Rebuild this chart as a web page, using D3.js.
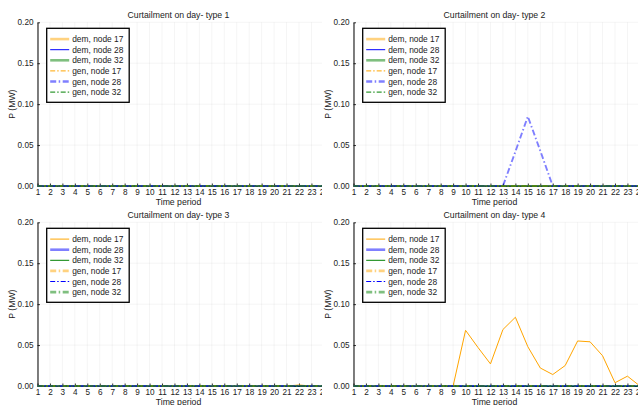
<!DOCTYPE html>
<html><head><meta charset="utf-8">
<script src="https://cdn.jsdelivr.net/npm/d3@7"></script>
<style>body{margin:0;background:#fff}svg{display:block}text{font-family:"Liberation Sans",Arial,sans-serif;fill:#222}</style>
</head><body><svg id="c" width="638" height="405"></svg>
<script>
const periods = d3.range(1, 25);
const yTicks = [0, 0.05, 0.10, 0.15, 0.20];
const titles = ["Curtailment on day- type 1","Curtailment on day- type 2","Curtailment on day- type 3","Curtailment on day- type 4"];
const seriesNames = ["dem, node 17","dem, node 28","dem, node 32","gen, node 17","gen, node 28","gen, node 32"];
const seriesColors = ["#FFA500","#0000FF","#008000","#FFA500","#0000FF","#008000"];
const z = () => periods.map(() => 0);
// day type 1: all zero
const day1 = [z(), z(), z(), z(), z(), z()];
// day type 2: gen, node 28
const day2gen28 = [0,0,0,0,0,0,0,0,0,0,0,0,0,0.042,0.085,0.043,0,0,0,0,0,0,0,0];
const day2 = [z(), z(), z(), z(), day2gen28, z()];
// day type 3: tiny dem, node 17 at period 22
const day3dem17 = [0,0,0,0,0,0,0,0,0,0,0,0,0,0,0,0,0,0,0,0,0,0.0012,0,0];
const day3 = [day3dem17, z(), z(), z(), z(), z()];
// day type 4: dem, node 17
const day4dem17 = [0,0,0,0,0,0,0,0,0,0.068,0.047,0.027,0.069,0.084,0.048,0.022,0.014,0.025,0.055,0.054,0.037,0.004,0.012,0];
const day4 = [day4dem17, z(), z(), z(), z(), z()];
const allDays = [day1, day2, day3, day4];

const svg = d3.select("#c");
const colAxis = [37.5, 353.5], plotW = 286.4;
const rowTop = [22.3, 222.3], plotH = 163.7;

function styleFor(panel, i, legend) {
  const thickFirst = panel < 2;
  const thick = ((i % 2 === 0) === thickFirst);
  return {
    width: thick ? (legend ? 2.6 : 1.9) : 1,
    opacity: thick ? 0.5 : 1,
    dash: i >= 3 ? (thick ? "6,2.5,1.5,2.5" : "5,2,1.5,2") : null
  };
}

[0, 2, 1, 3].forEach(p => {
  const data = allDays[p];
  const col = p % 2, row = Math.floor(p / 2);
  const x0 = colAxis[col], y0 = rowTop[row];
  if (p === 1) {
    svg.append("rect").attr("x", 322).attr("y", 0).attr("width", 320).attr("height", 405).attr("fill", "#fff");
  }
  const g = svg.append("g");
  const x = d3.scaleLinear().domain([1, 24]).range([x0, x0 + plotW]);
  const y = d3.scaleLinear().domain([0, 0.2]).range([y0 + plotH, y0]);
  // grid
  g.append("g").selectAll("line").data(periods).join("line")
    .attr("x1", d => x(d)).attr("x2", d => x(d)).attr("y1", y(0)).attr("y2", y(0.2))
    .attr("stroke", "#000").attr("stroke-opacity", 0.08).attr("stroke-width", 0.6);
  g.append("g").selectAll("line").data(yTicks).join("line")
    .attr("x1", x(1)).attr("x2", x(24)).attr("y1", d => y(d)).attr("y2", d => y(d))
    .attr("stroke", "#000").attr("stroke-opacity", 0.08).attr("stroke-width", 0.6);
  // axes
  const xa = g.append("g").attr("transform", `translate(0,${y(0)})`)
    .call(d3.axisBottom(x).tickValues(periods).tickFormat(d3.format("d")).tickSizeInner(-2.5).tickSizeOuter(0).tickPadding(3.5));
  const ya = g.append("g").attr("transform", `translate(${x0},0)`)
    .call(d3.axisLeft(y).tickValues(yTicks).tickFormat(d3.format(".2f")).tickSizeInner(-2.5).tickSizeOuter(0).tickPadding(4));
  [xa, ya].forEach(a => {
    a.select(".domain").attr("stroke", "#000").attr("stroke-width", 1);
    a.selectAll(".tick line").attr("stroke", "#000").attr("stroke-width", 0.8);
    a.selectAll("text").attr("font-size", 8.2).attr("fill", "#222").attr("font-family", '"Liberation Sans",Arial,sans-serif');
  });
  // series
  const line = d3.line().x((d, i) => x(periods[i])).y(d => y(d));
  data.forEach((vals, i) => {
    const s = styleFor(p, i, false);
    g.append("path").attr("d", line(vals)).attr("fill", "none")
      .attr("stroke", seriesColors[i]).attr("stroke-width", s.width)
      .attr("stroke-opacity", s.opacity).attr("stroke-dasharray", s.dash);
  });
  // title & labels
  g.append("text").attr("x", x0 + 141).attr("y", y0 - 4).attr("text-anchor", "middle").attr("font-size", 8.7).text(titles[p]);
  g.append("text").attr("x", x0 + 141).attr("y", y(0) + 18.5).attr("text-anchor", "middle").attr("font-size", 8.7).text("Time period");
  g.append("text").attr("transform", `translate(${x0 - 23},${y0 + plotH / 2}) rotate(-90)`)
    .attr("text-anchor", "middle").attr("font-size", 8.7).text("P (MW)");
  // legend
  const lx = x0 + 9.2, ly = y0 + 6;
  const lg = g.append("g");
  lg.append("rect").attr("x", lx).attr("y", ly).attr("width", 82.5).attr("height", 74)
    .attr("fill", "#fff").attr("stroke", "#000").attr("stroke-width", 1.3);
  seriesNames.forEach((nm, i) => {
    const s = styleFor(p, i, true);
    const yy = ly + 10.8 + i * 10.6;
    lg.append("line").attr("x1", lx + 3.5).attr("x2", lx + 22.5).attr("y1", yy).attr("y2", yy)
      .attr("stroke", seriesColors[i]).attr("stroke-width", s.width).attr("stroke-opacity", s.opacity)
      .attr("stroke-dasharray", s.dash);
    lg.append("text").attr("x", lx + 25.5).attr("y", yy + 3).attr("font-size", 8.4).text(nm);
  });
});
</script></body></html>
